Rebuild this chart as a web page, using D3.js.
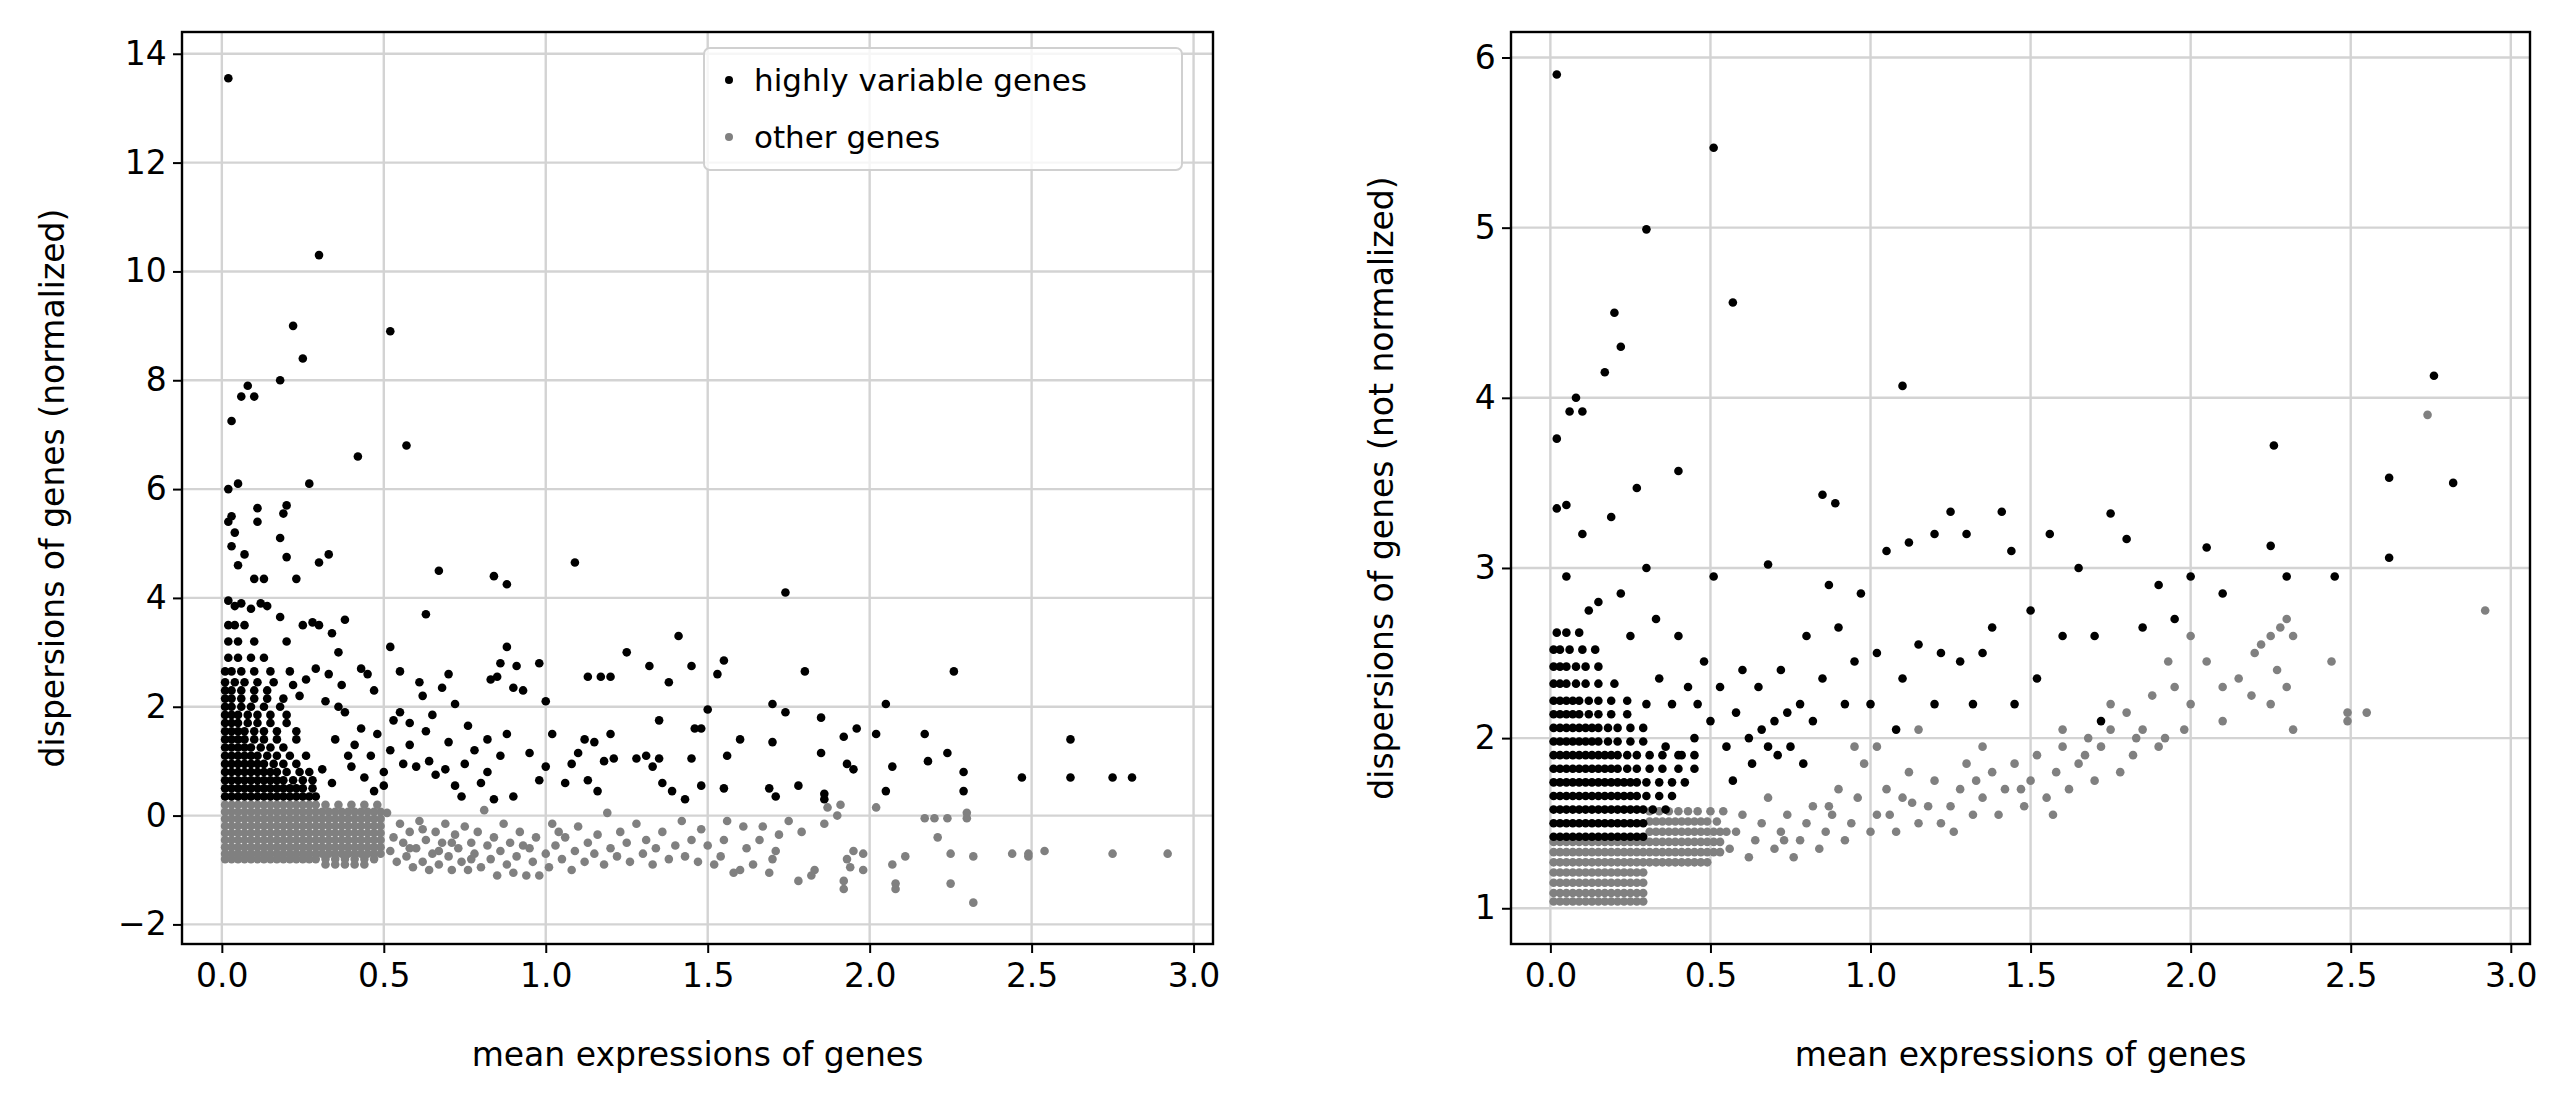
<!DOCTYPE html>
<html><head><meta charset="utf-8">
<script src="https://cdn.jsdelivr.net/npm/d3@7"></script>
<style>body{margin:0;background:#fff}text{font-family:"DejaVu Sans",sans-serif}</style>
</head><body><svg id="c" width="2561" height="1101"></svg>
<script>
// ---- data: [mean, dispersion] pairs ----
const hvgNormSparse = [[0.02,13.55],[0.3,10.3],[0.22,9.0],[0.52,8.9],[0.25,8.4],[0.18,8.0],[0.08,7.9],[0.06,7.7],[0.1,7.7],[0.03,7.25],[0.57,6.8],[0.42,6.6],[0.27,6.1],[0.05,6.1],[0.02,6.0],[0.2,5.7],[0.11,5.65],[0.19,5.55],[0.03,5.5],[0.11,5.4],[0.02,5.4],[0.04,5.2],[0.18,5.1],[0.03,4.95],[0.3,4.65],[0.23,4.35],[0.33,4.8],[0.2,4.75],[0.05,4.6],[0.07,4.8],[0.1,4.35],[0.13,4.35],[0.67,4.5],[0.84,4.4],[0.88,4.25],[1.09,4.65],[1.74,4.1],[0.63,3.7],[0.38,3.6],[1.41,3.3],[0.52,3.1],[1.55,2.85],[0.88,3.1],[1.8,2.65],[2.26,2.65],[1.25,3.0],[1.32,2.75],[1.45,2.75],[0.98,2.8],[1.13,2.55],[1.17,2.55],[1.2,2.55],[1.38,2.45],[1.53,2.6],[1.7,2.05],[2.05,2.05],[1.74,1.9],[1.85,1.8],[1.96,1.6],[1.92,1.45],[2.02,1.5],[2.17,1.5],[2.18,1.0],[2.24,1.15],[2.29,0.8],[2.47,0.7],[2.62,1.4],[2.62,0.7],[2.75,0.7],[2.81,0.7],[2.29,0.45],[2.07,0.9],[2.05,0.45],[1.93,0.95],[1.95,0.85],[1.85,1.15],[1.7,1.35],[1.69,0.5],[1.71,0.35],[1.78,0.55],[1.86,0.3],[1.86,0.4],[1.6,1.4],[1.56,1.1],[1.55,0.5],[1.5,1.95],[1.46,1.6],[1.48,1.6],[1.45,1.05],[1.48,0.55],[1.43,0.3],[1.35,1.75],[1.31,1.1],[1.33,0.9],[1.35,1.05],[1.36,0.6],[1.39,0.45],[1.28,1.05],[1.21,1.05],[1.2,1.5],[1.15,1.35],[1.12,1.4],[1.1,1.15],[1.08,0.95],[1.06,0.6],[1.13,0.65],[1.16,0.45],[1.18,1.0],[1.0,2.1],[1.02,1.5],[1.0,0.9],[0.98,0.65],[0.95,1.15],[0.93,2.3],[0.9,2.35],[0.91,2.75],[0.86,2.8],[0.83,2.5],[0.85,2.55],[0.82,1.4],[0.86,1.1],[0.88,1.5],[0.82,0.8],[0.8,0.6],[0.84,0.3],[0.9,0.35],[0.76,1.65],[0.78,1.2],[0.75,0.95],[0.72,2.05],[0.7,2.6],[0.68,2.35],[0.7,1.35],[0.72,0.55],[0.74,0.35],[0.65,1.85],[0.62,2.2],[0.61,2.45],[0.64,1.0],[0.66,0.75],[0.6,0.9],[0.58,1.3],[0.58,1.7],[0.55,1.9],[0.53,1.75],[0.55,2.65],[0.52,1.2],[0.5,0.8],[0.5,0.55],[0.48,1.5],[0.47,2.3],[0.45,2.6],[0.43,2.7],[0.46,1.1],[0.44,0.7],[0.41,1.3],[0.4,0.9],[0.38,1.9],[0.37,2.4],[0.36,3.0],[0.34,3.35],[0.33,2.6],[0.32,2.1],[0.35,1.4],[0.34,0.6],[0.31,0.85],[0.3,3.5],[0.28,3.55],[0.29,2.7],[0.26,2.5],[0.25,3.5],[0.24,2.2],[0.22,2.4],[0.21,2.65],[0.2,3.2],[0.18,3.65],[0.14,3.85],[0.12,3.9],[0.09,3.8],[0.06,3.9],[0.04,3.85],[0.02,3.95],[0.43,1.6],[0.39,1.1],[0.47,0.45],[0.36,2.0],[0.56,0.95],[0.63,1.55],[0.69,0.85]];
const hvgNormDenseRows = [
 [0.35,[0.01,0.03,0.05,0.07,0.09,0.11,0.13,0.15,0.17,0.19,0.21,0.23,0.25,0.27,0.29]],
 [0.5,[0.01,0.03,0.05,0.07,0.09,0.11,0.13,0.15,0.17,0.19,0.21,0.23,0.25,0.28]],
 [0.65,[0.01,0.03,0.05,0.07,0.09,0.11,0.13,0.15,0.17,0.19,0.22,0.25,0.28]],
 [0.8,[0.01,0.03,0.05,0.07,0.09,0.11,0.13,0.15,0.17,0.2,0.24,0.27]],
 [0.95,[0.01,0.03,0.05,0.07,0.09,0.11,0.13,0.16,0.19,0.23]],
 [1.1,[0.01,0.03,0.05,0.07,0.09,0.11,0.14,0.17,0.21,0.26]],
 [1.25,[0.01,0.03,0.05,0.07,0.09,0.12,0.15,0.19]],
 [1.4,[0.01,0.03,0.05,0.07,0.1,0.13,0.17,0.23]],
 [1.55,[0.01,0.03,0.05,0.07,0.1,0.13,0.17,0.23]],
 [1.7,[0.01,0.03,0.05,0.08,0.11,0.15,0.2]],
 [1.85,[0.01,0.03,0.05,0.08,0.11,0.15,0.2]],
 [2.0,[0.01,0.03,0.06,0.09,0.13,0.18]],
 [2.15,[0.01,0.03,0.06,0.1,0.14,0.19]],
 [2.3,[0.01,0.03,0.06,0.1,0.14]],
 [2.45,[0.01,0.04,0.07,0.11,0.16]],
 [2.65,[0.01,0.03,0.06,0.1,0.15]],
 [2.9,[0.02,0.05,0.09,0.13]],
 [3.2,[0.02,0.05,0.1]],
 [3.5,[0.02,0.04,0.07]]];
const otherNormSparse = [[2.92,-0.7],[2.75,-0.7],[2.54,-0.65],[2.49,-0.75],[2.49,-0.7],[2.44,-0.7],[2.32,-1.6],[2.32,-0.75],[2.3,-0.05],[2.3,0.05],[2.25,-0.7],[2.25,-1.25],[2.24,-0.05],[2.21,-0.4],[2.2,-0.05],[2.17,-0.05],[2.11,-0.75],[2.08,-1.25],[2.08,-1.35],[2.07,-0.9],[2.02,0.15],[1.98,-0.7],[1.98,-1.0],[1.95,-0.65],[1.94,-0.95],[1.93,-0.8],[1.92,-1.35],[1.92,-1.2],[1.9,0.0],[1.91,0.2],[1.87,0.15],[1.86,-0.15],[1.83,-1.0],[1.82,-1.1],[1.78,-1.2],[1.79,-0.3],[1.75,-0.1],[1.72,-0.35],[1.71,-0.65],[1.7,-0.8],[1.69,-1.05],[1.67,-0.2],[1.66,-0.45],[1.64,-0.9],[1.62,-0.6],[1.61,-0.2],[1.6,-1.0],[1.58,-1.05],[1.56,-0.1],[1.55,-0.45],[1.54,-0.75],[1.52,-0.9],[1.5,-0.55],[1.48,-0.25],[1.47,-0.85],[1.45,-0.45],[1.43,-0.75],[1.42,-0.1],[1.4,-0.55],[1.38,-0.8],[1.36,-0.3],[1.34,-0.6],[1.33,-0.9],[1.31,-0.45],[1.3,-0.7],[1.28,-0.15],[1.26,-0.85],[1.25,-0.5],[1.23,-0.3],[1.22,-0.75],[1.2,-0.6],[1.19,0.05],[1.18,-0.9],[1.16,-0.35],[1.15,-0.7],[1.13,-0.5],[1.12,-0.85],[1.1,-0.2],[1.09,-0.65],[1.08,-1.0],[1.06,-0.4],[1.05,-0.8],[1.03,-0.55],[1.02,-0.15],[1.01,-0.95],[1.0,-0.7],[0.98,-1.1],[0.97,-0.4],[0.96,-0.85],[0.95,-0.6],[0.94,-1.1],[0.92,-0.3],[0.91,-0.75],[0.9,-1.05],[0.89,-0.5],[0.88,-0.9],[0.87,-0.15],[0.86,-0.65],[0.85,-1.1],[0.84,-0.4],[0.83,-0.8],[0.82,-0.55],[0.81,0.1],[0.8,-0.95],[0.79,-0.3],[0.78,-0.7],[0.77,-0.5],[0.76,-1.0],[0.75,-0.2],[0.74,-0.85],[0.73,-0.6],[0.72,-0.35],[0.71,-1.0],[0.7,-0.75],[0.69,-0.15],[0.68,-0.5],[0.67,-0.9],[0.66,-0.3],[0.65,-0.7],[0.64,-1.0],[0.63,-0.45],[0.62,-0.85],[0.61,-0.1],[0.6,-0.6],[0.59,-0.95],[0.58,-0.3],[0.57,-0.75],[0.56,-0.5],[0.55,-0.15],[0.54,-0.85],[0.53,-0.4],[0.52,-0.65],[0.51,0.05],[0.62,-0.25],[0.71,-0.5],[0.77,-0.8],[0.93,-0.55],[1.04,-0.3],[0.58,-0.6],[0.67,-0.65]];
const otherNormDenseRows = [
 [0.2,[0.01,0.03,0.05,0.07,0.09,0.11,0.13,0.15,0.17,0.19,0.21,0.23,0.25,0.27,0.29,0.32,0.36,0.4,0.44,0.48]],
 [0.07,[0.01,0.03,0.05,0.07,0.09,0.11,0.13,0.15,0.17,0.19,0.21,0.23,0.25,0.27,0.29,0.31,0.33,0.35,0.37,0.39,0.41,0.43,0.45,0.47,0.49]],
 [-0.06,[0.01,0.03,0.05,0.07,0.09,0.11,0.13,0.15,0.17,0.19,0.21,0.23,0.25,0.27,0.29,0.31,0.33,0.35,0.37,0.39,0.41,0.43,0.45,0.47,0.49]],
 [-0.19,[0.01,0.03,0.05,0.07,0.09,0.11,0.13,0.15,0.17,0.19,0.21,0.23,0.25,0.27,0.29,0.31,0.33,0.35,0.37,0.39,0.41,0.43,0.45,0.47,0.49]],
 [-0.32,[0.01,0.03,0.05,0.07,0.09,0.11,0.13,0.15,0.17,0.19,0.21,0.23,0.25,0.27,0.29,0.31,0.33,0.35,0.37,0.39,0.41,0.43,0.45,0.47,0.49]],
 [-0.45,[0.01,0.03,0.05,0.07,0.09,0.11,0.13,0.15,0.17,0.19,0.21,0.23,0.25,0.27,0.29,0.31,0.33,0.35,0.37,0.39,0.41,0.43,0.45,0.47,0.49]],
 [-0.58,[0.01,0.03,0.05,0.07,0.09,0.11,0.13,0.15,0.17,0.19,0.21,0.23,0.25,0.27,0.29,0.31,0.33,0.35,0.37,0.39,0.41,0.43,0.45,0.47,0.49]],
 [-0.7,[0.01,0.03,0.05,0.07,0.09,0.11,0.13,0.15,0.17,0.19,0.21,0.23,0.25,0.27,0.29,0.31,0.33,0.35,0.37,0.39,0.41,0.43,0.45,0.47,0.49]],
 [-0.8,[0.01,0.03,0.05,0.07,0.09,0.11,0.13,0.15,0.17,0.19,0.21,0.23,0.25,0.27,0.29,0.32,0.35,0.38,0.41,0.44,0.47]],
 [-0.9,[0.32,0.35,0.38,0.41,0.44]]];
const hvgRawSparse = [[0.02,5.9],[0.51,5.47],[0.3,4.99],[0.57,4.56],[0.2,4.5],[0.22,4.3],[0.17,4.15],[0.08,4.0],[0.06,3.92],[0.1,3.92],[0.02,3.76],[1.1,4.07],[2.76,4.13],[2.26,3.72],[0.4,3.57],[2.62,3.53],[2.82,3.5],[0.27,3.47],[0.85,3.43],[0.89,3.38],[0.02,3.35],[0.05,3.37],[0.19,3.3],[0.1,3.2],[0.3,3.0],[0.51,2.95],[0.68,3.02],[1.05,3.1],[1.12,3.15],[1.2,3.2],[1.25,3.33],[1.3,3.2],[1.41,3.33],[1.44,3.1],[1.56,3.2],[1.65,3.0],[1.75,3.32],[1.8,3.17],[2.0,2.95],[2.05,3.12],[2.1,2.85],[2.25,3.13],[2.3,2.95],[2.45,2.95],[2.62,3.06],[1.9,2.9],[1.95,2.7],[1.85,2.65],[1.7,2.6],[1.72,2.1],[1.6,2.6],[1.5,2.75],[1.52,2.35],[1.45,2.2],[1.38,2.65],[1.35,2.5],[1.32,2.2],[1.28,2.45],[1.22,2.5],[1.2,2.2],[1.15,2.55],[1.1,2.35],[1.08,2.05],[1.02,2.5],[1.0,2.2],[0.97,2.85],[0.95,2.45],[0.92,2.2],[0.9,2.65],[0.87,2.9],[0.85,2.35],[0.82,2.1],[0.8,2.6],[0.78,2.2],[0.75,1.95],[0.72,2.4],[0.7,2.1],[0.68,1.95],[0.65,2.3],[0.62,2.0],[0.6,2.4],[0.58,2.15],[0.55,1.95],[0.53,2.3],[0.5,2.1],[0.48,2.45],[0.45,2.0],[0.43,2.3],[0.4,2.6],[0.38,2.2],[0.36,1.95],[0.34,2.35],[0.33,2.7],[0.3,2.2],[0.25,2.6],[0.22,2.85],[0.15,2.8],[0.12,2.75],[0.05,2.95],[0.63,1.85],[0.71,1.9],[0.79,1.85],[0.66,2.05],[0.74,2.15],[0.57,1.75],[0.46,2.2],[0.41,1.9]];
const hvgRawDenseRows = [
 [1.42,[0.01,0.03,0.05,0.07,0.09,0.11,0.13,0.15,0.17,0.19,0.21,0.23,0.25,0.27,0.29]],
 [1.5,[0.01,0.03,0.05,0.07,0.09,0.11,0.13,0.15,0.17,0.19,0.21,0.23,0.25,0.27,0.29]],
 [1.58,[0.01,0.03,0.05,0.07,0.09,0.11,0.13,0.15,0.17,0.19,0.21,0.23,0.25,0.27,0.29,0.32,0.36]],
 [1.66,[0.01,0.03,0.05,0.07,0.09,0.11,0.13,0.15,0.17,0.19,0.21,0.23,0.25,0.27,0.3,0.34,0.38]],
 [1.74,[0.01,0.03,0.05,0.07,0.09,0.11,0.13,0.15,0.17,0.19,0.21,0.23,0.25,0.27,0.3,0.34,0.38,0.42]],
 [1.82,[0.01,0.03,0.05,0.07,0.09,0.11,0.13,0.15,0.17,0.19,0.21,0.24,0.27,0.31,0.35,0.4,0.45]],
 [1.9,[0.01,0.03,0.05,0.07,0.09,0.11,0.13,0.15,0.17,0.19,0.21,0.24,0.27,0.31,0.35,0.4,0.45]],
 [1.98,[0.01,0.03,0.05,0.07,0.09,0.11,0.13,0.15,0.18,0.21,0.25,0.29]],
 [2.06,[0.01,0.03,0.05,0.07,0.09,0.11,0.13,0.15,0.18,0.21,0.25,0.29]],
 [2.14,[0.01,0.03,0.05,0.07,0.09,0.12,0.15,0.19,0.24]],
 [2.22,[0.01,0.03,0.05,0.07,0.09,0.12,0.15,0.19,0.24]],
 [2.32,[0.01,0.03,0.05,0.08,0.11,0.15,0.2]],
 [2.42,[0.01,0.03,0.05,0.08,0.11,0.15]],
 [2.52,[0.01,0.03,0.06,0.1,0.14]],
 [2.62,[0.02,0.05,0.09]]];
const otherRawSparse = [[2.74,3.9],[2.92,2.75],[2.3,2.7],[2.32,2.6],[2.28,2.65],[2.25,2.6],[2.22,2.55],[2.27,2.4],[2.3,2.3],[2.32,2.05],[2.25,2.2],[2.2,2.5],[2.19,2.25],[2.15,2.35],[2.1,2.3],[2.05,2.45],[2.44,2.45],[2.55,2.15],[2.49,2.15],[2.49,2.1],[2.1,2.1],[2.0,2.2],[1.98,2.05],[1.95,2.3],[1.92,2.0],[1.9,1.95],[1.88,2.25],[1.85,2.05],[1.82,1.9],[1.8,2.15],[1.78,1.8],[1.75,2.05],[1.72,1.95],[1.7,1.75],[1.68,2.0],[1.65,1.85],[1.62,1.7],[1.6,1.95],[1.58,1.8],[1.55,1.65],[1.52,1.9],[1.5,1.75],[1.48,1.6],[1.45,1.85],[1.42,1.7],[1.4,1.55],[1.38,1.8],[1.35,1.65],[1.32,1.55],[1.3,1.85],[1.28,1.7],[1.25,1.6],[1.22,1.5],[1.2,1.75],[1.18,1.6],[1.15,1.5],[1.12,1.8],[1.1,1.65],[1.08,1.45],[1.05,1.7],[1.02,1.55],[1.0,1.45],[0.98,1.85],[0.96,1.65],[0.94,1.5],[0.92,1.4],[0.9,1.7],[0.88,1.55],[0.86,1.45],[0.84,1.35],[0.82,1.6],[0.8,1.5],[0.78,1.4],[0.76,1.3],[0.74,1.55],[0.72,1.45],[0.7,1.35],[0.68,1.65],[0.66,1.5],[0.64,1.4],[0.62,1.3],[0.6,1.55],[0.58,1.45],[0.56,1.35],[1.02,1.95],[1.15,2.05],[1.35,1.95],[1.6,2.05],[1.75,2.2],[1.93,2.45],[2.0,2.6],[1.57,1.55],[1.26,1.45],[0.95,1.95],[1.13,1.62],[1.33,1.75],[1.47,1.7],[1.67,1.9],[0.87,1.6],[0.73,1.4],[1.06,1.55],[1.83,2.0]];
const otherRawDenseRows = [
 [1.04,[0.01,0.03,0.05,0.07,0.09,0.11,0.13,0.15,0.17,0.19,0.21,0.23,0.25,0.27,0.29]],
 [1.09,[0.01,0.03,0.05,0.07,0.09,0.11,0.13,0.15,0.17,0.19,0.21,0.23,0.25,0.27,0.29]],
 [1.15,[0.01,0.03,0.05,0.07,0.09,0.11,0.13,0.15,0.17,0.19,0.21,0.23,0.25,0.27,0.29]],
 [1.21,[0.01,0.03,0.05,0.07,0.09,0.11,0.13,0.15,0.17,0.19,0.21,0.23,0.25,0.27,0.29]],
 [1.27,[0.01,0.03,0.05,0.07,0.09,0.11,0.13,0.15,0.17,0.19,0.21,0.23,0.25,0.27,0.29,0.31,0.33,0.35,0.37,0.39,0.41,0.43,0.45,0.47,0.49]],
 [1.33,[0.01,0.03,0.05,0.07,0.09,0.11,0.13,0.15,0.17,0.19,0.21,0.23,0.25,0.27,0.29,0.31,0.33,0.35,0.37,0.39,0.41,0.43,0.45,0.47,0.49,0.51,0.53]],
 [1.39,[0.01,0.03,0.05,0.07,0.09,0.11,0.13,0.15,0.17,0.19,0.21,0.23,0.25,0.27,0.29,0.31,0.33,0.35,0.37,0.39,0.41,0.43,0.45,0.47,0.49,0.51,0.53]],
 [1.45,[0.31,0.33,0.35,0.37,0.39,0.41,0.43,0.45,0.47,0.49,0.51,0.53,0.55]],
 [1.51,[0.31,0.33,0.35,0.37,0.39,0.41,0.43,0.45,0.47,0.49,0.52]],
 [1.57,[0.31,0.34,0.37,0.4,0.43,0.46,0.5,0.54]]];
const xTicks = [0,0.5,1,1.5,2,2.5,3];
const yTicksLeft = [-2,0,2,4,6,8,10,12,14];
const yTicksRight = [1,2,3,4,5,6];

const expand = (sparse, rows) => sparse.concat(...rows.map(([y,xs]) => xs.map(x => [x,y])));
const svg = d3.select("#c");
const T = 32, B = 944;

function panel(L, R, yDom, yTicks, yLabel, hvg, other, legend){
  const x = d3.scaleLinear().domain([-0.123,3.06]).range([L,R]);
  const y = d3.scaleLinear().domain(yDom).range([B,T]);
  const g = svg.append("g");
  g.selectAll(".gx").data(xTicks).join("line").attr("x1",d=>x(d)).attr("x2",d=>x(d)).attr("y1",T).attr("y2",B).attr("stroke","#d3d3d3").attr("stroke-width",2.4);
  g.selectAll(".gy").data(yTicks).join("line").attr("y1",d=>y(d)).attr("y2",d=>y(d)).attr("x1",L).attr("x2",R).attr("stroke","#d3d3d3").attr("stroke-width",2.4);
  g.append("g").selectAll("circle").data(other).join("circle").attr("cx",d=>x(d[0])).attr("cy",d=>y(d[1])).attr("r",4.3).attr("fill","#808080");
  g.append("g").selectAll("circle").data(hvg).join("circle").attr("cx",d=>x(d[0])).attr("cy",d=>y(d[1])).attr("r",4.3).attr("fill","#000");
  const ax = g.append("g").attr("transform",`translate(0,${B})`).call(d3.axisBottom(x).tickValues(xTicks).tickFormat(d3.format(".1f")).tickSize(9).tickSizeOuter(0));
  const ay = g.append("g").attr("transform",`translate(${L},0)`).call(d3.axisLeft(y).tickValues(yTicks).tickFormat(d=>d<0?"\u2212"+Math.abs(d):d).tickSize(9).tickSizeOuter(0));
  [ax,ay].forEach(a=>{a.select(".domain").remove();a.selectAll("line").attr("stroke-width",2);a.selectAll("text").attr("font-size",33).attr("font-family","DejaVu Sans");});
  ax.selectAll("text").attr("dy","0.95em");
  ay.selectAll("text").attr("dx","-0.1em");
  g.append("rect").attr("x",L).attr("y",T).attr("width",R-L).attr("height",B-T).attr("fill","none").attr("stroke","#000").attr("stroke-width",2.4);
  g.append("text").attr("x",(L+R)/2).attr("y",1066).attr("text-anchor","middle").attr("font-size",33).text("mean expressions of genes");
  g.append("text").attr("transform",`translate(${L-118},${(T+B)/2}) rotate(-90)`).attr("text-anchor","middle").attr("font-size",33).text(yLabel);
  if(legend){
    const lg = g.append("g").attr("transform",`translate(${R-31-478},${T+16})`);
    lg.append("rect").attr("width",478).attr("height",122).attr("rx",6).attr("fill","#fff").attr("fill-opacity",0.8).attr("stroke","#d0d0d0").attr("stroke-width",2);
    [["highly variable genes","#000"],["other genes","#808080"]].forEach(([t,c],i)=>{
      lg.append("circle").attr("cx",25).attr("cy",32+i*57).attr("r",4).attr("fill",c);
      lg.append("text").attr("x",50).attr("y",43+i*57).attr("font-size",31).text(t);
    });
  }
}
panel(182,1213,[-2.36,14.4],yTicksLeft,"dispersions of genes (normalized)",expand(hvgNormSparse,hvgNormDenseRows),expand(otherNormSparse,otherNormDenseRows),true);
panel(1511,2530,[0.79,6.15],yTicksRight,"dispersions of genes (not normalized)",expand(hvgRawSparse,hvgRawDenseRows),expand(otherRawSparse,otherRawDenseRows),false);
</script></body></html>
